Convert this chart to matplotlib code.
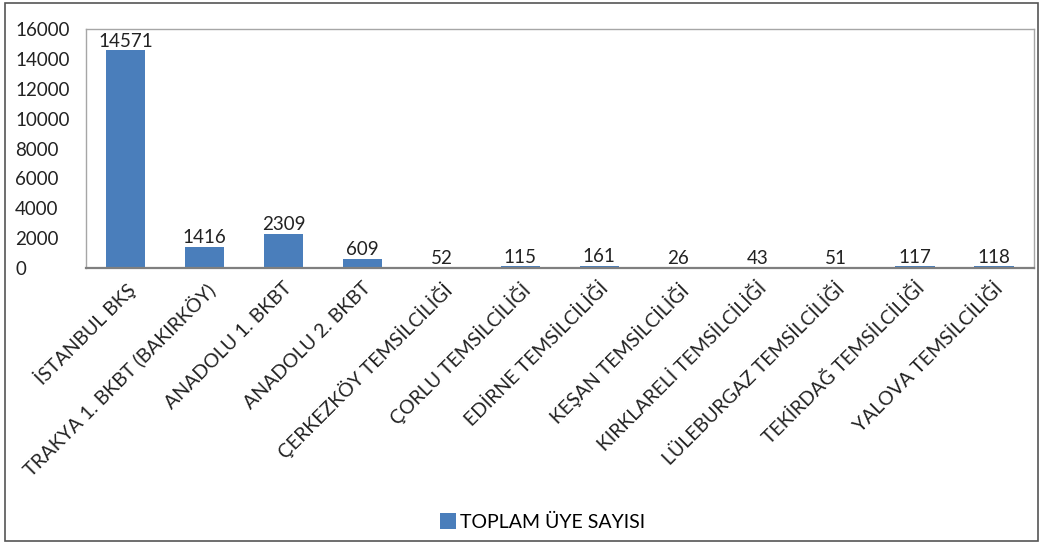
import matplotlib.pyplot as plt
from matplotlib.patches import Rectangle

plt.rcParams['font.family'] = ['Lato', 'DejaVu Sans']

categories = [
    'İSTANBUL BKŞ', 'TRAKYA 1. BKBT (BAKIRKÖY)', 'ANADOLU 1. BKBT', 'ANADOLU 2. BKBT',
    'ÇERKEZKÖY TEMSİLCİLİĞİ', 'ÇORLU TEMSİLCİLİĞİ', 'EDİRNE TEMSİLCİLİĞİ',
    'KEŞAN TEMSİLCİLİĞİ', 'KIRKLARELİ TEMSİLCİLİĞİ', 'LÜLEBURGAZ TEMSİLCİLİĞİ',
    'TEKİRDAĞ TEMSİLCİLİĞİ', 'YALOVA TEMSİLCİLİĞİ',
]
members = [14571, 1416, 2309, 609, 52, 115, 161, 26, 43, 51, 117, 118]
yticks = [0, 2000, 4000, 6000, 8000, 10000, 12000, 14000, 16000]
series_name = 'TOPLAM ÜYE SAYISI'

bar_color = '#4a7ebb'

fig = plt.figure(figsize=(10.43, 5.44), dpi=100)
ax = fig.add_axes([0.0825, 0.507, 0.9085, 0.44])

x = range(len(categories))
bars = ax.bar(x, members, width=0.5, color=bar_color, label=series_name)

for xi, v in zip(x, members):
    ax.annotate(str(v), (xi, v), xytext=(0, 0.5), textcoords='offset points',
                ha='center', va='bottom', fontsize=13.5, color='#222222')

ax.set_xlim(-0.5, len(categories) - 0.5)
ax.set_ylim(0, 16000)
ax.set_yticks(yticks)
ax.set_yticklabels([str(t) for t in yticks])
ax.set_xticks(list(x))
ax.set_xticklabels(categories, rotation=45, ha='right', rotation_mode='anchor',
                   fontsize=14, color='#222222')
ax.tick_params(axis='x', length=0, pad=8)
ax.tick_params(axis='y', length=0, pad=51, labelsize=13.5, labelcolor='#222222')
for lab in ax.get_yticklabels():
    lab.set_horizontalalignment('left')

for side in ['left', 'top', 'right']:
    ax.spines[side].set_color('#a6a6a6')
    ax.spines[side].set_linewidth(1.0)
ax.spines['bottom'].set_color('#7f7f7f')
ax.spines['bottom'].set_linewidth(1.6)

fig.legend(handles=[bars], labels=[series_name], loc='center',
           bbox_to_anchor=(0.52, 0.04), frameon=False, fontsize=14,
           handlelength=0.85, handleheight=0.85, handletextpad=0.2)

fig.patches.append(Rectangle((0.005, 0.006), 0.99, 0.988, transform=fig.transFigure,
                             fill=False, edgecolor='#555555', linewidth=1.2))

fig.savefig('out.png', dpi=100)
